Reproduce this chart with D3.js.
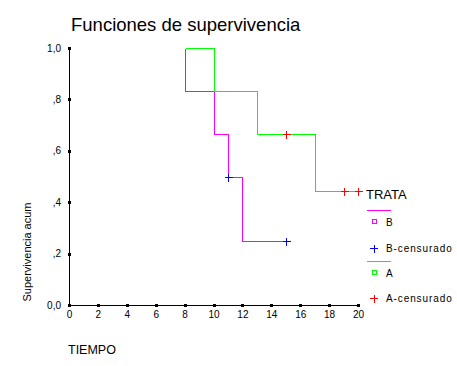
<!DOCTYPE html>
<html>
<head>
<meta charset="utf-8">
<script src="https://cdn.jsdelivr.net/npm/d3@7"></script>
<style>
  body { margin: 0; background: #fff; }
  text { font-family: Arial, "Liberation Sans", sans-serif; fill: #000; }
</style>
</head>
<body>
<svg id="chart" width="457" height="366"></svg>
<script>
// Kaplan-Meier steps
var groupB = [
  {t: 8, s: 1.0}, {t: 8, s: 0.833}, {t: 10, s: 0.667},
  {t: 11, s: 0.5}, {t: 12, s: 0.25}, {t: 15, s: 0.25}
];
var censoredB = [{t: 11, s: 0.5}, {t: 15, s: 0.25}];
var groupA = [
  {t: 8, s: 1.0}, {t: 10, s: 0.833}, {t: 13, s: 0.667},
  {t: 17, s: 0.444}, {t: 20, s: 0.444}
];
var censoredA = [{t: 15, s: 0.667}, {t: 19, s: 0.444}, {t: 20, s: 0.444}];
var xTicks = [0, 2, 4, 6, 8, 10, 12, 14, 16, 18, 20];
var yTicks = [0, 0.2, 0.4, 0.6, 0.8, 1.0];
var legendItems = ["B", "B-censurado", "A", "A-censurado"];

var svg = d3.select("#chart");
var x = d3.scaleLinear().domain([0, 20]).range([69, 358]);
var y = d3.scaleLinear().domain([0, 1]).range([305, 48]);

var fmtY = function(d) {
  var s = d3.format(".1f")(d).replace(".", ",");
  return s.indexOf("0,") === 0 && d > 0 ? s.slice(1) : s;
};

// title
svg.append("text")
  .attr("x", 71).attr("y", 31)
  .style("font-size", "18.5px")
  .text("Funciones de supervivencia");

// axes
svg.append("line").attr("x1", x(0)).attr("x2", x(20)).attr("y1", y(0) + 0.5).attr("y2", y(0) + 0.5)
  .attr("stroke", "#000");
svg.append("line").attr("x1", x(0) + 0.5).attr("x2", x(0) + 0.5).attr("y1", y(1)).attr("y2", y(0))
  .attr("stroke", "#000");

svg.selectAll(".xtick").data(xTicks).enter().append("rect")
  .attr("x", d => Math.round(x(d)) - 1).attr("y", y(0) - 1)
  .attr("width", 3).attr("height", 3).attr("fill", "#000");
svg.selectAll(".xlab").data(xTicks).enter().append("text")
  .attr("x", d => x(d) + 0.5).attr("y", 318)
  .attr("text-anchor", "middle").style("font-size", "10px")
  .text(d => d);

svg.selectAll(".ytick").data(yTicks).enter().append("rect")
  .attr("x", x(0) - 1).attr("y", d => Math.round(y(d)) - 1)
  .attr("width", 3).attr("height", 3).attr("fill", "#000");
svg.selectAll(".ylab").data(yTicks).enter().append("text")
  .attr("x", 61).attr("y", d => y(d) + 3.5)
  .attr("text-anchor", "end").style("font-size", "10px")
  .text(fmtY);

// axis titles
svg.append("text")
  .attr("transform", "translate(31,252) rotate(-90)")
  .attr("text-anchor", "middle").style("font-size", "11px")
  .text("Supervivencia acum");
svg.append("text")
  .attr("x", 68).attr("y", 354)
  .style("font-size", "12.5px")
  .text("TIEMPO");

// curves
var step = d3.line()
  .x(d => Math.round(x(d.t)) + 0.5)
  .y(d => Math.round(y(d.s)) + 0.5)
  .curve(d3.curveStepAfter);
svg.append("path").datum(groupB).attr("d", step)
  .attr("fill", "none").attr("stroke", "#ff00ff").attr("stroke-width", 1.3)
  .attr("shape-rendering", "crispEdges");
svg.append("path").datum(groupA).attr("d", step)
  .attr("fill", "none").attr("stroke", "#00ff00").attr("stroke-width", 1.3)
  .attr("shape-rendering", "crispEdges");

function plus(sel, data, color) {
  var g = sel.selectAll(null).data(data).enter().append("g")
    .attr("transform", d => "translate(" + (Math.round(x(d.t)) + 0.5) + "," + (Math.round(y(d.s)) + 0.5) + ")")
    .attr("shape-rendering", "crispEdges");
  g.append("line").attr("x1", -4).attr("x2", 4).attr("stroke", color).attr("stroke-width", 1.3);
  g.append("line").attr("y1", -4).attr("y2", 4).attr("stroke", color).attr("stroke-width", 1.3);
}
plus(svg, censoredB, "#0000ff");
plus(svg, censoredA, "#ff0000");

// legend
svg.append("text").attr("x", 366).attr("y", 199).style("font-size", "13px").text("TRATA");
var colors = ["#ff00ff", "#0000ff", "#00ff00", "#ff0000"];
var rowY = [222, 248, 273, 298];
legendItems.forEach(function(name, i) {
  var c = colors[i], yy = rowY[i];
  var g = svg.append("g").attr("shape-rendering", "crispEdges");
  if (i % 2 === 0) {
    g.append("line").attr("x1", 367).attr("x2", 391).attr("y1", yy - 11.5).attr("y2", yy - 11.5)
      .attr("stroke", c).attr("stroke-width", 1.3);
    g.append("rect").attr("x", 372.5).attr("y", yy - 2.5).attr("width", 4).attr("height", 4)
      .attr("fill", "none").attr("stroke", c);
  } else {
    g.append("line").attr("x1", 370).attr("x2", 378).attr("y1", yy + 0.5).attr("y2", yy + 0.5).attr("stroke", c).attr("stroke-width", 1.3);
    g.append("line").attr("x1", 374.5).attr("x2", 374.5).attr("y1", yy - 3.5).attr("y2", yy + 4.5).attr("stroke", c).attr("stroke-width", 1.3);
  }
  svg.append("text").attr("x", 386).attr("y", yy + 3.5)
    .style("font-size", "10px").style("letter-spacing", "0.9px")
    .text(name);
});
</script>
</body>
</html>
